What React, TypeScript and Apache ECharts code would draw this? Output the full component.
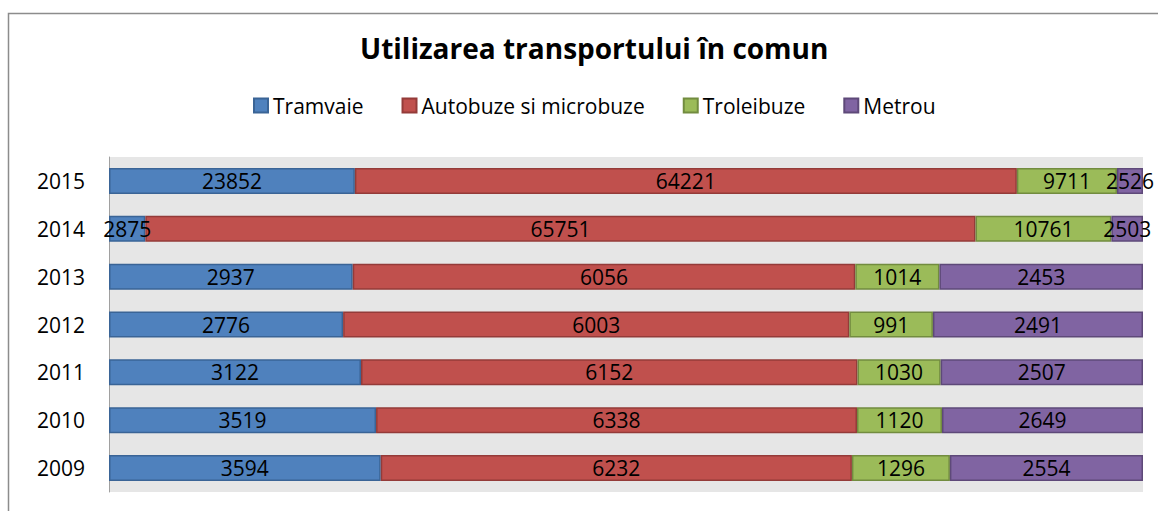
import React, { useEffect, useRef } from "react";
import * as echarts from "echarts";

const years = ["2009", "2010", "2011", "2012", "2013", "2014", "2015"];
const tramvaie = [3594, 3519, 3122, 2776, 2937, 2875, 23852];
const autobuze = [6232, 6338, 6152, 6003, 6056, 65751, 64221];
const troleibuze = [1296, 1120, 1030, 991, 1014, 10761, 9711];
const metrou = [2554, 2649, 2507, 2491, 2453, 2503, 2526];

const seriesDefs = [
  { name: "Tramvaie", values: tramvaie, color: "#4f81bd", border: "#3a6496" },
  { name: "Autobuze si microbuze", values: autobuze, color: "#c0504d", border: "#943b39" },
  { name: "Troleibuze", values: troleibuze, color: "#9bbb59", border: "#728c3f" },
  { name: "Metrou", values: metrou, color: "#8064a2", border: "#5e4979" },
];

const FONT = "'Open Sans', 'DejaVu Sans', sans-serif";

export default function App() {
  const ref = useRef<HTMLDivElement>(null);
  useEffect(() => {
    if (!ref.current) return;
    const chart = echarts.init(ref.current, null, { renderer: "svg" });
    const totals = years.map((_, i) =>
      seriesDefs.reduce((s, d) => s + d.values[i], 0)
    );
    chart.setOption({
      animation: false,
      backgroundColor: "#ffffff",
      title: {
        text: "Utilizarea transportului în comun",
        left: 355,
        top: 29,
        textStyle: { fontFamily: FONT, fontSize: 28, fontWeight: "bold", color: "#000" },
      },
      legend: {
        top: 90,
        left: 248,
        itemWidth: 14,
        itemHeight: 14,
        itemGap: 38,
        icon: "rect",
        textStyle: { fontFamily: FONT, fontSize: 21, color: "#000" },
        data: seriesDefs.map((d) => d.name),
      },
      graphic: [
        {
          type: "rect",
          shape: { x: 8.5, y: 13.5, width: 1200, height: 600 },
          style: { fill: "none", stroke: "#8c8c8c", lineWidth: 1.5 },
          silent: true,
          z: -1,
        },
      ],
      grid: {
        left: 109,
        right: 15,
        top: 157,
        bottom: 19,
        show: true,
        backgroundColor: "#e6e6e6",
        borderWidth: 0,
      },
      xAxis: {
        type: "value",
        min: 0,
        max: 100,
        show: false,
      },
      yAxis: {
        type: "category",
        data: years,
        axisLine: { show: true, lineStyle: { color: "#a0a0a0", width: 1 } },
        axisTick: { show: false },
        axisLabel: { fontFamily: FONT, fontSize: 21, color: "#000", margin: 24 },
        splitLine: { show: false },
      },
      series: seriesDefs.map((d) => ({
        name: d.name,
        type: "bar",
        stack: "total",
        barWidth: 26,
        data: d.values.map((v, i) => (v / totals[i]) * 100),
        itemStyle: { color: d.color, borderColor: d.border, borderWidth: 1.5 },
        label: {
          show: true,
          position: "inside",
          fontFamily: FONT,
          fontSize: 21,
          color: "#000",
          formatter: (p: any) => String(d.values[p.dataIndex]),
        },
      })),
    });
    return () => chart.dispose();
  }, []);
  return (
    <div
      ref={ref}
      style={{ position: "absolute", left: 0, top: 0, width: 1158, height: 511 }}
    />
  );
}
